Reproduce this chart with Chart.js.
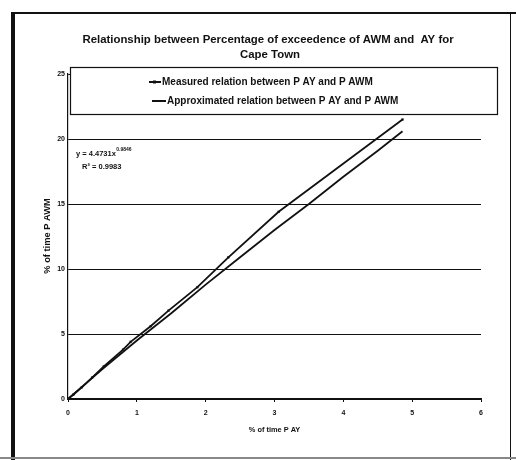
<!DOCTYPE html>
<html>
<head>
<meta charset="utf-8">
<script src="https://cdn.jsdelivr.net/npm/chart.js@4/dist/chart.umd.min.js"></script>
<style>
  html, body { margin: 0; background: #fff; }
  canvas { display: block; }
</style>
</head>
<body>
<canvas id="chart" width="516" height="460"></canvas>
<script>
// measured pairs of P AY (x) and P AWM (y)
const measuredX = [0, 0.08, 0.2, 0.35, 0.52, 0.8, 0.91, 1.2, 1.46, 1.88, 2.33, 3.06, 4.86];
const measuredY = [0, 0.35, 0.9, 1.65, 2.5, 3.8, 4.4, 5.6, 6.8, 8.6, 10.9, 14.4, 21.5];

// fitted power curve, sampled
const approxX = [0, 0.5, 1, 1.5, 2, 2.5, 3, 3.5, 4, 4.5, 4.86];
const approxY = [0, 2.3, 4.5, 6.6, 8.8, 10.9, 13.0, 15.0, 17.1, 19.1, 20.6];

const xTicks = [0, 1, 2, 3, 4, 5, 6];
const yTicks = [0, 5, 10, 15, 20, 25];

const titleLines = ['Relationship between Percentage of exceedence of AWM and  AY for', 'Cape Town'];
const seriesNames = ['Measured relation between P AY and P AWM', 'Approximated relation between P AY and P AWM'];
const xTitle = '% of time P AY';
const yTitle = '% of time P AWM';
const fitEquation = 'y = 4.4731x';
const fitExponent = '0.9846';
const fitR2 = 'R² = 0.9983';

const FONT = '"Liberation Sans", Arial, sans-serif';
const INK = '#111';

const toPoints = (xs, ys) => xs.map((x, i) => ({ x, y: ys[i] }));

// frame, title, legend box, fit text and y title
const decorations = {
  id: 'decorations',
  afterDraw(chart) {
    const ctx = chart.ctx;
    ctx.save();

    // outer frame
    ctx.fillStyle = INK;
    ctx.fillRect(11, 13, 4, 447);
    ctx.fillRect(11, 12, 505, 2);
    ctx.fillRect(510, 13, 1, 447);
    ctx.fillStyle = '#888';
    ctx.fillRect(0, 457, 516, 2);

    // title
    ctx.fillStyle = INK;
    ctx.textAlign = 'center';
    ctx.textBaseline = 'middle';
    ctx.font = 'bold 11.4px ' + FONT;
    ctx.fillText(titleLines[0], 268, 40);
    ctx.fillText(titleLines[1], 270, 55);

    // legend box sitting over the top of the plot
    ctx.fillStyle = '#fff';
    ctx.fillRect(70, 67, 427, 47);
    ctx.strokeStyle = INK;
    ctx.lineWidth = 1.2;
    ctx.strokeRect(70.5, 67.5, 427, 47);

    ctx.lineWidth = 1.8;
    ctx.beginPath();
    ctx.moveTo(149, 82); ctx.lineTo(161, 82);
    ctx.moveTo(152, 101); ctx.lineTo(166, 101);
    ctx.stroke();
    ctx.fillStyle = INK;
    ctx.fillRect(153, 80.5, 3, 3);

    ctx.textAlign = 'left';
    ctx.font = 'bold 10px ' + FONT;
    ctx.fillText(seriesNames[0], 162, 82);
    ctx.fillText(seriesNames[1], 167, 101);

    // fit equation
    ctx.font = 'bold 7.5px ' + FONT;
    ctx.fillText(fitEquation, 76, 154);
    const w = ctx.measureText(fitEquation).width;
    ctx.font = 'bold 5px ' + FONT;
    ctx.fillText(fitExponent, 76 + w + 0.5, 150);
    ctx.font = 'bold 7.5px ' + FONT;
    ctx.fillText(fitR2, 82, 167);

    // y axis title
    ctx.translate(47, 236);
    ctx.rotate(-Math.PI / 2);
    ctx.textAlign = 'center';
    ctx.font = 'bold 9.3px ' + FONT;
    ctx.fillText(yTitle, 0, 0);

    ctx.restore();
  }
};

new Chart(document.getElementById('chart'), {
  type: 'scatter',
  data: {
    datasets: [
      {
        label: seriesNames[0],
        data: toPoints(measuredX, measuredY),
        showLine: true,
        borderColor: INK,
        backgroundColor: INK,
        borderWidth: 1.8,
        pointStyle: 'rect',
        pointRadius: 1.6,
        pointBorderWidth: 0
      },
      {
        label: seriesNames[1],
        data: toPoints(approxX, approxY),
        showLine: true,
        borderColor: INK,
        borderWidth: 1.8,
        pointRadius: 0
      }
    ]
  },
  options: {
    responsive: false,
    animation: false,
    devicePixelRatio: 1,
    layout: { padding: { left: 0, right: 35, top: 74, bottom: 26 } },
    plugins: {
      legend: { display: false },
      title: { display: false },
      tooltip: { enabled: false }
    },
    scales: {
      x: {
        type: 'linear',
        min: xTicks[0],
        max: xTicks[xTicks.length - 1],
        afterBuildTicks: s => { s.ticks = xTicks.map(v => ({ value: v })); },
        afterFit: s => { s.height = 35; },
        grid: { drawOnChartArea: false, tickLength: 3, color: INK },
        border: { color: INK, width: 1.2 },
        ticks: { color: INK, padding: 7, font: { family: FONT, size: 7, weight: 'bold' } },
        title: {
          display: true,
          text: xTitle,
          color: INK,
          padding: 0,
          font: { family: FONT, size: 7.4, weight: 'bold' }
        }
      },
      y: {
        type: 'linear',
        min: yTicks[0],
        max: yTicks[yTicks.length - 1],
        afterBuildTicks: s => { s.ticks = yTicks.map(v => ({ value: v })); },
        afterFit: s => { s.width = 68; },
        grid: { color: INK, lineWidth: 1, tickLength: 0 },
        border: { color: INK, width: 1.2 },
        ticks: { color: INK, padding: 3, font: { family: FONT, size: 7, weight: 'bold' } }
      }
    }
  },
  plugins: [decorations]
});
</script>
</body>
</html>
